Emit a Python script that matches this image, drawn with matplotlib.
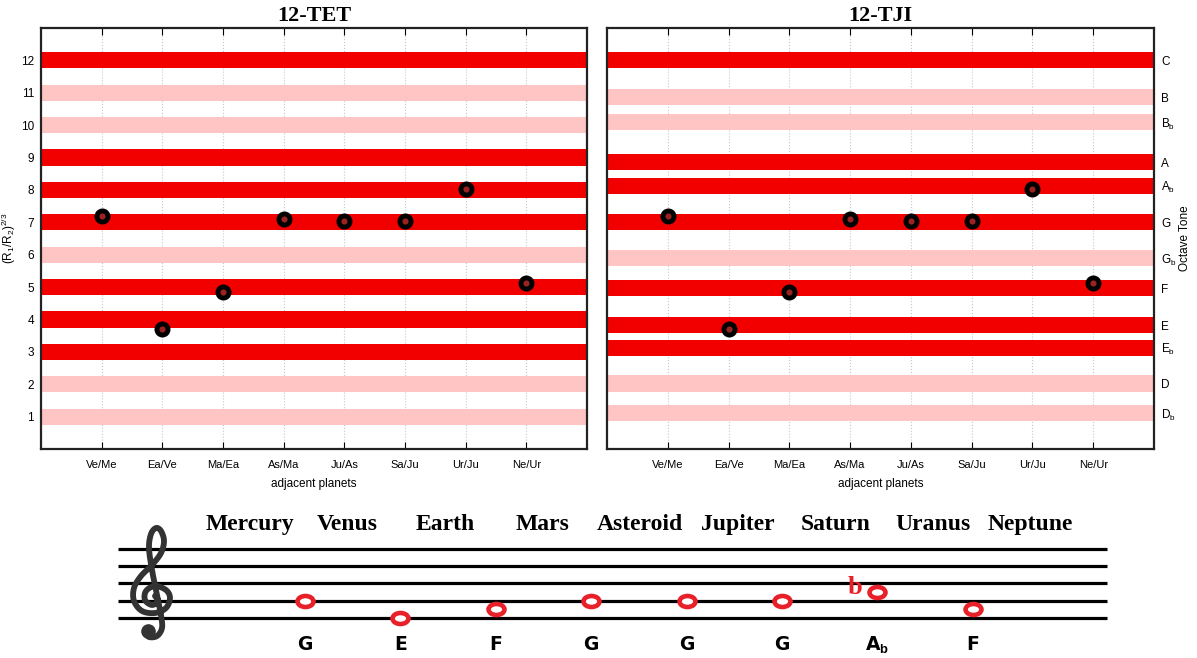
import matplotlib
matplotlib.use("Agg")
import numpy as np
import matplotlib.pyplot as plt
from matplotlib.path import Path
from matplotlib.transforms import Affine2D

plt.rcParams["font.family"] = ["Liberation Sans", "DejaVu Sans"]
plt.rcParams["mathtext.fontset"] = "custom"
plt.rcParams["mathtext.rm"] = "Liberation Sans"
plt.rcParams["mathtext.it"] = "Liberation Sans:italic"
plt.rcParams["mathtext.bf"] = "Liberation Sans:bold"

# adjacent planet pairs and their tone value
pairs = ["Ve/Me", "Ea/Ve", "Ma/Ea", "As/Ma", "Ju/As", "Sa/Ju", "Ur/Ju", "Ne/Ur"]
tones = [7.18, 3.72, 4.84, 7.10, 7.03, 7.03, 8.02, 5.14]

# band levels
tet_levels = [1, 2, 3, 4, 5, 6, 7, 8, 9, 10, 11, 12]
tji_levels = [1.10, 2.02, 3.13, 3.82, 4.96, 5.90, 7.00, 8.13, 8.86, 10.10, 10.86, 12.0]
tji_names = ["D$_\\mathrm{b}$", "D", "E$_\\mathrm{b}$", "E", "F", "G$_\\mathrm{b}$",
             "G", "A$_\\mathrm{b}$", "A", "B$_\\mathrm{b}$", "B", "C"]
strong = [False, False, True, True, True, False, True, True, True, False, False, True]

# staff part
planets = ["Mercury", "Venus", "Earth", "Mars", "Asteroid", "Jupiter", "Saturn", "Uranus", "Neptune"]
note_names = ["G", "E", "F", "G", "G", "G", "A$_\\mathbf{b}$", "F"]
note_steps = [2, 0, 1, 2, 2, 2, 3, 1]
note_flat = [False, False, False, False, False, False, True, False]

DARK = "#f20000"
PINK = "#ffc4c4"
NOTE_RED = "#e8202a"

fig = plt.figure(figsize=(11.97, 6.58), dpi=100)
ax1 = fig.add_axes([41 / 1197, 1 - 449 / 658, 546 / 1197, 421 / 658])
ax2 = fig.add_axes([607 / 1197, 1 - 449 / 658, 547 / 1197, 421 / 658])


def draw_panel(ax, levels, title):
    ax.set_axisbelow(True)
    for lv, st in zip(levels, strong):
        ax.axhspan(lv - 0.25, lv + 0.25, color=DARK if st else PINK, lw=0)
    x = list(range(1, len(pairs) + 1))
    ax.plot(x, tones, ls="none", marker="o", ms=8, mew=3.5,
            mfc="#9a2222", mec="black", zorder=5)
    ax.set_xlim(0, 9)
    ax.set_ylim(0, 13)
    ax.set_xticks(x)
    ax.set_xticklabels(pairs, fontsize=8)
    ax.set_xlabel("adjacent planets", fontsize=8.5, labelpad=6)
    ax.xaxis.grid(True, ls=":", color="#c8c8c8", lw=0.8)
    ax.tick_params(direction="in", top=True, right=True, length=5, labelsize=8.5)
    ax.tick_params(axis="x", pad=8, labelsize=8)
    ax.tick_params(axis="y", pad=5)
    for s in ax.spines.values():
        s.set_linewidth(1.6)
        s.set_color("#222222")
    ax.set_title(title, fontfamily="Liberation Serif", fontweight="bold", fontsize=16, pad=5)


draw_panel(ax1, tet_levels, "12-TET")
ax1.set_yticks(tet_levels)
ax1.set_ylabel("(R$_1$/R$_2$)$^{2/3}$", fontsize=8.5, labelpad=2)

draw_panel(ax2, tji_levels, "12-TJI")
ax2.set_yticks(tji_levels)
ax2.set_yticklabels(tji_names)
ax2.tick_params(labelleft=False, labelright=True)
ax2.yaxis.set_label_position("right")
ax2.set_ylabel("Octave Tone", fontsize=8.5, labelpad=2)

# music staff
ax3 = fig.add_axes([0, 0, 1, 158 / 658])
ax3.set_xlim(-305 / 95.4, (1197 - 305) / 95.4)
ax3.set_ylim(-40 / 8.63, 118 / 8.63)
ax3.axis("off")
for s in [0, 2, 4, 6, 8]:
    ax3.plot([-1.96, 8.41], [s, s], color="black", lw=2.3, solid_capstyle="butt")


def px_to_staff(px, py):
    return (np.asarray(px) - 305) / 95.4, (618 - np.asarray(py)) / 8.63


def catmull_rom(pts, n=12):
    pts = np.asarray(pts, float)
    pts = np.vstack([pts[0], pts, pts[-1]])
    out = []
    for i in range(1, len(pts) - 2):
        p0, p1, p2, p3 = pts[i - 1], pts[i], pts[i + 1], pts[i + 2]
        for t in np.linspace(0, 1, n, endpoint=False):
            t2, t3 = t * t, t * t * t
            out.append(0.5 * ((2 * p1) + (-p0 + p2) * t + (2 * p0 - 5 * p1 + 4 * p2 - p3) * t2
                              + (-p0 + 3 * p1 - 3 * p2 + p3) * t3))
    out.append(pts[-2])
    return np.array(out)


# treble clef outline (no installed font carries the G clef glyph)
clef_pts = [(155, 596), (158, 601), (152, 605), (145, 600), (146, 591), (155, 586),
            (166, 590), (170, 598), (166, 608), (155, 613), (142, 611), (134, 601),
            (134, 588), (141, 576), (152, 565), (161, 553), (164, 541), (161, 531),
            (156, 528), (151, 534), (149, 548), (152, 570), (157, 595), (161, 615),
            (162, 628), (157, 636), (149, 637), (145, 632)]
curve = catmull_rom(clef_pts)
cx, cy = px_to_staff(curve[:, 0], curve[:, 1])
ax3.plot(cx, cy, color="#333333", lw=4.2, solid_capstyle="round", solid_joinstyle="round")
bx, by = px_to_staff(148, 631)
ax3.plot(bx, by, marker="o", ms=9.5, color="#333333")

ellipse = Path.unit_circle().transformed(Affine2D().scale(1.45, 1.0))
for i, (nm, st, fl) in enumerate(zip(note_names, note_steps, note_flat)):
    ax3.plot(i, st, ls="none", marker=ellipse, ms=11.5, mew=3.3, mfc="white", mec=NOTE_RED, zorder=5)
    ax3.text(i, -3.1, nm, fontsize=13.5, fontweight="bold", family="DejaVu Sans",
             ha="center", va="center")
    if fl:
        ax3.text(i - 0.23, st + 0.55, "b", fontsize=19, color=NOTE_RED, fontweight="bold",
                 family="Liberation Serif", ha="center", va="center")

for i, p in enumerate(planets):
    ax3.text(i * 1.023 - 0.577, 10.8, p, fontsize=17, fontweight="bold", family="Liberation Serif",
             ha="center", va="center")

fig.savefig("out.png", dpi=100)
